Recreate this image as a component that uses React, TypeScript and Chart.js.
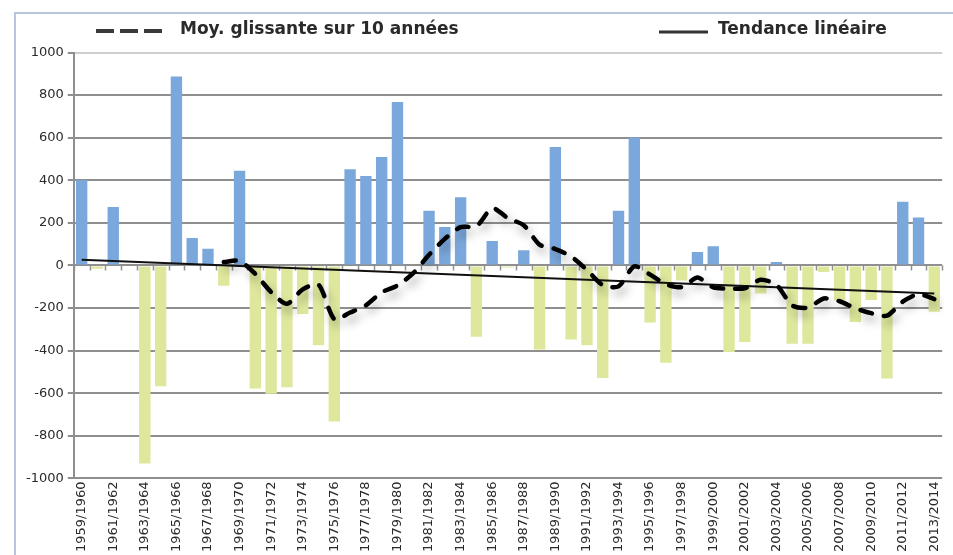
import React, { useEffect, useRef } from 'react';
import { Chart, registerables } from 'chart.js';

Chart.register(...registerables);

const seasons = [
  '1959/1960', '1960/1961', '1961/1962', '1962/1963', '1963/1964', '1964/1965', '1965/1966',
  '1966/1967', '1967/1968', '1968/1969', '1969/1970', '1970/1971', '1971/1972', '1972/1973',
  '1973/1974', '1974/1975', '1975/1976', '1976/1977', '1977/1978', '1978/1979', '1979/1980',
  '1980/1981', '1981/1982', '1982/1983', '1983/1984', '1984/1985', '1985/1986', '1986/1987',
  '1987/1988', '1988/1989', '1989/1990', '1990/1991', '1991/1992', '1992/1993', '1993/1994',
  '1994/1995', '1995/1996', '1996/1997', '1997/1998', '1998/1999', '1999/2000', '2000/2001',
  '2001/2002', '2002/2003', '2003/2004', '2004/2005', '2005/2006', '2006/2007', '2007/2008',
  '2008/2009', '2009/2010', '2010/2011', '2011/2012', '2012/2013', '2013/2014',
];

const deviations = [
  400, -15, 275, 0, -930, -567, 887, 129, 79, -95,
  445, -578, -602, -572, -228, -375, -733, 452, 420, 509,
  767, 0, 257, 181, 320, -335, 115, -10, 71, -394,
  556, -347, -375, -528, 257, 601, -268, -457, -70, 63,
  90, -406, -359, -131, 16, -367, -367, -31, -165, -265,
  -162, -531, 299, 225, -217,
];

const movingAverage = [
  null, null, null, null, null, null, null, null, null, 16,
  21, -40, -125, -180, -112, -90, -252, -221, -187, -126,
  -94, -36, 50, 125, 180, 184, 269, 222, 189, 98,
  77, 42, -21, -92, -98, -4, -43, -88, -102, -57,
  -103, -108, -107, -67, -91, -188, -198, -155, -168, -201,
  -224, -236, -170, -135, -158,
];

const trendSeasons = ['1959/1960', '2013/2014'];
const trendValues = [27, -132];

const yTicks = { min: -1000, max: 1000, step: 200 };

const legendLabels = ['Moy. glissante sur 10 années', 'Tendance linéaire'];

const FONT = '"DejaVu Sans", "Liberation Sans", Arial, sans-serif';
const GRID = '#8f8f8f';
const GRID_TOP = '#cfcfcf';

const lineShadow = {
  id: 'lineShadow',
  beforeDatasetDraw(chart: any, args: any) {
    if (args.index === 1) {
      const c = chart.ctx;
      c.save();
      c.shadowColor = 'rgba(0,0,0,0.35)';
      c.shadowBlur = 10;
      c.shadowOffsetX = 3;
      c.shadowOffsetY = 6;
    }
  },
  afterDatasetDraw(chart: any, args: any) {
    if (args.index === 1) chart.ctx.restore();
  },
};

const zeroTicks = {
  id: 'zeroTicks',
  beforeDatasetsDraw(chart: any) {
    const { ctx, scales } = chart;
    const x = scales.x;
    const y = scales.y;
    const y0 = y.getPixelForValue(0);
    const n = chart.data.labels.length;
    const w = (x.right - x.left) / n;
    ctx.save();
    ctx.strokeStyle = GRID;
    ctx.lineWidth = 1.5;
    ctx.beginPath();
    for (let i = 0; i <= n; i++) {
      const px = Math.round(x.left + i * w) + 0.5;
      ctx.moveTo(px, y0);
      ctx.lineTo(px, y0 + 5);
    }
    ctx.stroke();
    ctx.restore();
  },
};

const customLegend = {
  id: 'customLegend',
  afterDraw(chart: any) {
    const ctx = chart.ctx;
    const yc = 16;
    ctx.save();
    ctx.strokeStyle = '#3a3a3a';
    ctx.lineWidth = 4;
    ctx.setLineDash([18, 6]);
    ctx.beginPath();
    ctx.moveTo(80, yc + 1);
    ctx.lineTo(152, yc + 1);
    ctx.stroke();
    ctx.setLineDash([]);
    ctx.lineWidth = 3;
    ctx.strokeStyle = '#333';
    ctx.beginPath();
    ctx.moveTo(643, yc + 2);
    ctx.lineTo(692, yc + 2);
    ctx.stroke();
    ctx.fillStyle = '#2a2a2a';
    ctx.font = `bold 17px ${FONT}`;
    ctx.textBaseline = 'middle';
    ctx.textAlign = 'left';
    ctx.fillText(legendLabels[0], 164, yc);
    ctx.fillText(legendLabels[1], 702, yc);
    ctx.restore();
  },
};

export default function App() {
  const ref = useRef<HTMLCanvasElement | null>(null);

  useEffect(() => {
    if (!ref.current) return;
    const chart = new Chart(ref.current, {
      type: 'bar',
      data: {
        labels: seasons,
        datasets: [
          {
            type: 'bar',
            label: 'Écart',
            data: deviations,
            backgroundColor: deviations.map((v) => (v >= 0 ? '#7ba8dc' : '#dee79c')),
            barPercentage: 0.72,
            categoryPercentage: 1,
            order: 3,
          } as any,
          {
            type: 'line',
            label: legendLabels[0],
            data: movingAverage,
            borderColor: '#000',
            borderWidth: 4.5,
            borderDash: [12, 12],
            borderCapStyle: 'round',
            pointRadius: 0,
            tension: 0.25,
            fill: false,
            order: 1,
          } as any,
          {
            type: 'line',
            label: legendLabels[1],
            data: trendSeasons.map((s, i) => ({ x: s, y: trendValues[i] })),
            borderColor: '#111',
            borderWidth: 2,
            pointRadius: 0,
            fill: false,
            order: 2,
          } as any,
        ],
      },
      options: {
        responsive: true,
        maintainAspectRatio: false,
        animation: false,
        layout: { padding: { top: 38.5, left: 6, right: 10, bottom: 0 } },
        plugins: {
          legend: { display: false },
          tooltip: { enabled: false },
        },
        scales: {
          x: {
            type: 'category',
            offset: true,
            grid: { display: false, drawTicks: false },
            border: { display: false },
            ticks: {
              autoSkip: false,
              minRotation: 90,
              maxRotation: 90,
              padding: 3,
              color: '#2a2a2a',
              font: { family: FONT, size: 13 },
              callback: (_v: any, i: number) => (i % 2 === 0 ? seasons[i] : ''),
            },
          },
          y: {
            type: 'linear',
            display: true,
            min: yTicks.min,
            max: yTicks.max,
            ticks: {
              stepSize: yTicks.step,
              color: '#2a2a2a',
              padding: 4,
              font: { family: FONT, size: 13 },
              callback: (v: any) => String(v),
            },
            grid: {
              display: true,
              drawOnChartArea: true,
              color: (c: any) => (c.tick && c.tick.value === yTicks.max ? GRID_TOP : GRID),
              lineWidth: 2,
              tickLength: 6,
              tickColor: GRID,
            },
            border: { display: true, color: GRID, width: 2 },
          },
        },
      } as any,
      plugins: [lineShadow, zeroTicks, customLegend],
    });
    return () => chart.destroy();
  }, []);

  return (
    <div
      style={{
        position: 'absolute',
        left: 14,
        top: 12,
        width: 939,
        height: 543,
        borderLeft: '2px solid #b7c5df',
        borderTop: '2px solid #b7c5df',
        boxSizing: 'border-box',
        background: '#fff',
      }}
    >
      <div style={{ position: 'relative', width: '100%', height: '100%' }}>
        <canvas ref={ref} />
      </div>
    </div>
  );
}
